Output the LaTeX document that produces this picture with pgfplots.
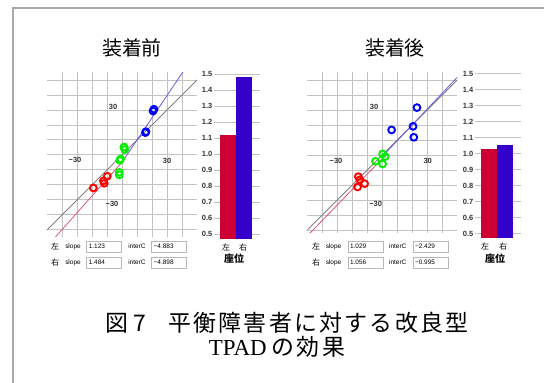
\documentclass[border=0pt]{standalone}
\usepackage{fontspec}
\usepackage{pgfplots}
\pgfplotsset{compat=1.18}
\setmainfont{Liberation Sans}
\newfontfamily\cjk{Noto Sans CJK JP}
\newfontfamily\tpad{Liberation Serif}

\definecolor{framegray}{HTML}{A8A8A8}
\definecolor{gridgray}{HTML}{C2C2C2}
\definecolor{axisdark}{HTML}{4A4A4A}
\definecolor{leftbar}{HTML}{CC0033}
\definecolor{rightbar}{HTML}{3300CC}
\definecolor{leftfit}{HTML}{E0507A}
\definecolor{rightfit}{HTML}{6A5AE0}
\definecolor{idgray}{HTML}{808080}
\definecolor{boxgray}{HTML}{B8B8B8}
\definecolor{ptred}{HTML}{FF0000}
\definecolor{ptgreen}{HTML}{00EE00}
\definecolor{ptblue}{HTML}{0000FF}

% spaced CJK caption text
\def\spaced#1{\spacedi#1\relax}
\def\spacedi#1{\ifx#1\relax\else#1\hspace{2.3bp}\expandafter\spacedi\fi}

\pgfplotsset{
  scatterbase/.style={
    scale only axis, width=150bp, xmin=-50, xmax=50,
    anchor=south west,
    axis line style={draw=none}, tick style={draw=none},
    xtick={-40,-30,-20,-10,10,20,30,40},
    ytick={-50,-40,-30,-20,-10,10,20,30,40,50},
    xticklabels={}, yticklabels={},
    extra x ticks={0}, extra y ticks={0},
    extra x tick labels={}, extra y tick labels={},
    extra tick style={grid style={axisdark, line width=0.9bp}},
    grid=major, major grid style={gridgray, line width=0.9bp},
  },
  barbase/.style={
    scale only axis, width=46bp, height=165.6bp,
    xmin=-0.875, xmax=2, ymin=0.47, ymax=1.505,
    anchor=south west,
    axis line style={draw=none}, tick style={draw=none},
    xtick=\empty,
    ytick={0.5,0.6,0.7,0.8,0.9,1.1,1.2,1.3,1.4,1.5},
    extra y ticks={1.0},
    extra y tick style={grid style={axisdark, line width=0.9bp}},
    ymajorgrids, major grid style={gridgray, line width=0.9bp},
    /pgf/number format/.cd, fixed, fixed zerofill, precision=1, assume math mode=true,
    /pgfplots/.cd,
    yticklabel style={font=\fontsize{7.5}{8}\selectfont\bfseries, text=black!80, inner sep=1.5bp},
    ybar, bar width=16bp, bar shift=0pt,
  },
  ptstyle/.style={only marks, mark=o, mark size=3.4bp, mark options={line width=1.9bp, draw=#1}},
}

\newcommand\valbox[3]{\node[draw=boxgray, fill=white, line width=0.7bp, minimum width=35bp, minimum height=11bp,
  inner sep=0pt, text width=31bp, align=left, font=\fontsize{6.5}{7}\selectfont] at (#1bp,#2bp) {#3};}
\newcommand\smalltxt[3]{\node[font=\fontsize{6.5}{7}\selectfont, inner sep=0pt] at (#1bp,#2bp) {#3};}
\newcommand\cjktxt[3]{\node[font=\cjk\fontsize{8}{9}\selectfont, inner sep=0pt] at (#1bp,#2bp) {#3};}
\newcommand\ticktxt[3]{\node[font=\fontsize{7.5}{8}\selectfont\bfseries, text=black!80, inner sep=0pt] at (#1bp,#2bp) {#3};}

\begin{document}
\begin{tikzpicture}
\useasboundingbox (0,0) rectangle (544bp,383bp);
% panel frame
\draw[framegray, line width=2bp] (13bp,0bp) -- (13bp,375bp) -- (544bp,375bp);

% titles
\node[font=\cjk\fontsize{20}{22}\selectfont, inner sep=0pt] at (132bp,335bp) {装着前};
\node[font=\cjk\fontsize{20}{22}\selectfont, inner sep=0pt] at (395bp,335bp) {装着後};

% ---------- before fitting: scatter ----------
\begin{axis}[scatterbase, at={(47bp,146.3bp)}, ymin=-54.5, ymax=55.3, height=164.7bp]
\addplot[idgray, line width=0.8bp] coordinates {(-50,-50) (50,50)};
\addplot[leftfit, line width=0.8bp] coordinates {(-50,-61.033) (0,-4.883)};
\addplot[rightfit, line width=0.8bp] coordinates {(0,-4.898) (50,69.302)};
\addplot[ptstyle=ptred] coordinates {(-19.1,-22.0) (-12.4,-17.3) (-11.8,-18.9) (-9.8,-14.2)};
\addplot[ptstyle=ptgreen] coordinates {(1.3,5.3) (1.8,3.6) (-1.5,-3.6) (-0.9,-2.7) (-1.8,-11.6) (-1.8,-13.3)};
\addplot[ptstyle=ptblue] coordinates {(15.6,14.9) (16.0,15.5) (20.7,29.3) (21.3,30.5)};
\end{axis}
\ticktxt{75}{223}{−30}
\ticktxt{167}{222}{30}
\ticktxt{113}{276}{30}
\ticktxt{112}{179}{−30}

% ---------- before fitting: slopes ----------
\begin{axis}[barbase, at={(214bp,144bp)}]
\addplot[fill=leftbar, draw=none] coordinates {(0,1.123)};
\addplot[fill=rightbar, draw=none] coordinates {(1,1.484)};
\end{axis}
\cjktxt{226}{136}{左}
\cjktxt{243}{136}{右}
\node[font=\cjk\bfseries\fontsize{10}{11}\selectfont, inner sep=0pt] at (234bp,124bp) {座位};

% ---------- after fitting: scatter ----------
\begin{axis}[scatterbase, at={(307.3bp,150.3bp)}, ymin=-51.8, ymax=55.5, height=160.95bp]
\addplot[idgray, line width=0.8bp] coordinates {(-50,-50) (50,50)};
\addplot[leftfit, line width=0.8bp] coordinates {(-50,-53.879) (0,-2.429)};
\addplot[rightfit, line width=0.8bp] coordinates {(0,-0.995) (50,51.805)};
\addplot[ptstyle=ptred] coordinates {(-16.0,-14.4) (-15.0,-16.5) (-11.8,-19.1) (-16.5,-21.3)};
\addplot[ptstyle=ptgreen] coordinates {(0.2,0.7) (1.9,-1.1) (-4.5,-4.2) (0.2,-6.0)};
\addplot[ptstyle=ptblue] coordinates {(23.1,31.6) (20.5,19.1) (21.0,11.8) (6.2,16.7)};
\end{axis}
\ticktxt{336}{222.3}{−30}
\ticktxt{427.7}{222.3}{30}
\ticktxt{374}{276.3}{30}
\ticktxt{375.7}{179}{−30}

% ---------- after fitting: slopes ----------
\begin{axis}[barbase, at={(475bp,144.7bp)}]
\addplot[fill=leftbar, draw=none] coordinates {(0,1.029)};
\addplot[fill=rightbar, draw=none] coordinates {(1,1.056)};
\end{axis}
\cjktxt{485}{136.5}{左}
\cjktxt{503}{136.5}{右}
\node[font=\cjk\bfseries\fontsize{10}{11}\selectfont, inner sep=0pt] at (495bp,124bp) {座位};

% ---------- regression readouts ----------
\cjktxt{55}{136.5}{左}
\smalltxt{73}{136.5}{slope}
\valbox{104.3}{136.5}{1.123}
\smalltxt{137}{136.5}{interC}
\valbox{169.2}{136.5}{−4.883}
\cjktxt{55}{120.5}{右}
\smalltxt{73}{120.5}{slope}
\valbox{104.3}{120.5}{1.484}
\smalltxt{137}{120.5}{interC}
\valbox{169.2}{120.5}{−4.898}

\cjktxt{316}{136.5}{左}
\smalltxt{333.5}{136.5}{slope}
\valbox{365.5}{136.5}{1.029}
\smalltxt{397.7}{136.5}{interC}
\valbox{430.5}{136.5}{−2.429}
\cjktxt{316}{120.5}{右}
\smalltxt{333.5}{120.5}{slope}
\valbox{365.5}{120.5}{1.056}
\smalltxt{397.7}{120.5}{interC}
\valbox{430.5}{120.5}{−0.995}

% ---------- caption ----------
\node[font=\cjk\fontsize{23}{26}\selectfont, inner sep=0pt] at (287bp,60bp)
  {図\hspace{5bp}7\hspace{22bp}\spaced{平衡障害者に対する改良}型};
\node[font=\cjk\fontsize{23}{26}\selectfont, inner sep=0pt] at (277bp,36bp)
  {{\tpad TPAD}\hspace{5bp}\spaced{の効}果};
\end{tikzpicture}
\end{document}
